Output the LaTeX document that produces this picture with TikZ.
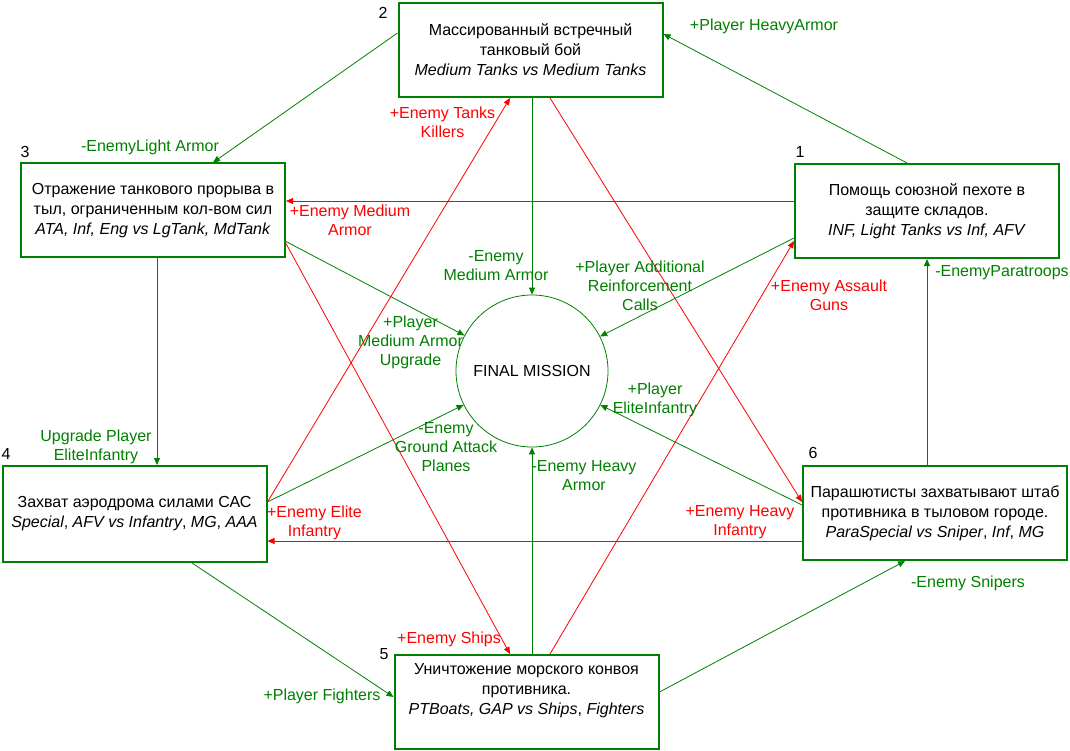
\documentclass[tikz,border=0pt]{standalone}
\usepackage{fontspec}
\setmainfont{Liberation Sans}
\usepackage{xcolor}
\usetikzlibrary{
  arrows.meta,
  shapes
}
\definecolor{mgreen}{RGB}{0,128,0}

\begin{document}
\begin{tikzpicture}[x=1pt, y=-1pt,
    every node/.style = {align=center, inner sep=0pt,
      font=\fontsize{16}{19}\selectfont},
    task/.style = {shape=rectangle, draw=mgreen, line width=2pt,
      minimum width=264pt, minimum height=94pt,
      font=\fontsize{16}{20}\selectfont},
    goal/.style = {shape=circle, draw=mgreen, line width=0.8pt,
      minimum size=152pt},
    glbl/.style = {text=mgreen},
    rlbl/.style = {text=red}]
    \tikzstyle{gline}=[draw=mgreen, line width=0.8pt,
      -{Triangle[length=7pt,width=6pt]}]
    \tikzstyle{rline}=[draw=red, line width=0.8pt,
      -{Triangle[length=7pt,width=6pt]}]
    \useasboundingbox (0,0) rectangle (1070,751);

    % missions
    \node[task] (b2) at (530.5,50) {Массированный встречный\\танковый бой\\\textit{Medium Tanks vs Medium Tanks}};
    \node[task] (b3) at (153,210.5) {Отражение танкового прорыва в\\тыл, ограниченным кол-вом сил\\\textit{ATA, Inf, Eng vs LgTank, MdTank}};
    \node[task] (b1) at (927,211) {Помощь союзной пехоте в\\защите складов.\\\textit{INF, Light Tanks vs Inf, AFV}};
    \node[task, minimum height=96pt] (b4) at (134.5,514) {Захват аэродрома силами САС\\\textit{Special}, \textit{AFV vs Infantry}, \textit{MG}, \textit{AAA}};
    \node[task] (b6) at (935,513) {Парашютисты захватывают штаб\\противника в тыловом городе.\\\textit{ParaSpecial vs Sniper}, \textit{Inf}, \textit{MG}};
    \node[task] (b5) at (526.5,702) {Уничтожение морского конвоя\\противника.\\\textit{PTBoats, GAP vs Ships}, \textit{Fighters}\\\strut};
    \node[goal] (fm) at (532,371) {FINAL MISSION};

    \node (n1) at (800,152) {1};
    \node (n2) at (383,13) {2};
    \node (n3) at (25,152) {3};
    \node (n4) at (6,454) {4};
    \node (n5) at (384,654) {5};
    \node (n6) at (813,453) {6};

    % links
    \draw[gline] ([xshift=-20pt]b1.north) -- ([yshift=16pt]b2.east);
    \draw[gline] ([yshift=17pt]b2.west) -- ([xshift=60pt]b3.north);
    \draw[rline] ([yshift=10pt]b1.west) -- ([yshift=10pt]b1.west -| b3.east);
    \draw[gline] (b2.south -| fm.north) -- (fm.north);
    \draw[rline] ([xshift=19.5pt]b2.south) -- ([yshift=11pt]b6.west);
    \draw[gline] ([xshift=4pt]b3.south) -- ([xshift=4pt]b3.south |- b4.north);
    \draw[gline] ([yshift=-31pt]b3.east) -- (fm);
    \draw[rline] ([yshift=-33pt]b3.east) -- ([xshift=-16.5pt]b5.north);
    \draw[gline] ([yshift=12pt]b4.east) -- (fm);
    \draw[rline] ([yshift=12pt]b4.east) -- ([xshift=-20.5pt]b2.south);
    \draw[rline] ([yshift=-28pt]b6.west) -- ([yshift=-28pt]b6.west -| b4.east);
    \draw[gline] ([xshift=57.5pt]b4.south) -- ([yshift=5pt]b5.west);
    \draw[gline] ([yshift=10pt]b5.east) -- ([xshift=-30pt]b6.south);
    \draw[gline] (b5.north -| fm.south) -- (fm.south);
    \draw[rline] ([xshift=23.5pt]b5.north) -- ([yshift=-30pt]b1.west);
    \draw[gline] ([yshift=-27pt]b1.west) -- (fm);
    \draw[gline] ([yshift=8pt]b6.west) -- (fm);
    \draw[gline] (b6.north -| b1.south) -- (b1.south);

    % link labels
    \node[glbl] (l1) at (764,26) {+Player HeavyArmor};
    \node[glbl] (l2) at (150,147) {-EnemyLight Armor};
    \node[rlbl] (l3) at (350,220) {+Enemy Medium\\Armor};
    \node[rlbl] (l4) at (442.5,122) {+Enemy Tanks\\Killers};
    \node[glbl] (l5) at (496,265.5) {-Enemy\\Medium Armor};
    \node[glbl] (l6) at (640,286) {+Player Additional\\Reinforcement\\Calls};
    \node[rlbl] (l7) at (829,295.5) {+Enemy Assault\\Guns};
    \node[glbl] (l8) at (1002,273) {-EnemyParatroops};
    \node[glbl] (l9) at (410.5,342) {+Player\\Medium Armor\\Upgrade};
    \node[glbl] (l10) at (655,400) {+Player\\EliteInfantry};
    \node[glbl] (l11) at (96,446.5) {Upgrade Player\\EliteInfantry};
    \node[glbl] (l12) at (446,447) {-Enemy\\Ground Attack\\Planes};
    \node[glbl] (l13) at (584,476) {-Enemy Heavy\\Armor};
    \node[rlbl] (l14) at (314.5,522.5) {+Enemy Elite\\Infantry};
    \node[rlbl] (l15) at (740,522.5) {+Enemy Heavy\\Infantry};
    \node[glbl] (l16) at (968,583) {-Enemy Snipers};
    \node[rlbl] (l17) at (449,639) {+Enemy Ships};
    \node[glbl] (l18) at (322,696) {+Player Fighters};
\end{tikzpicture}
\end{document}
